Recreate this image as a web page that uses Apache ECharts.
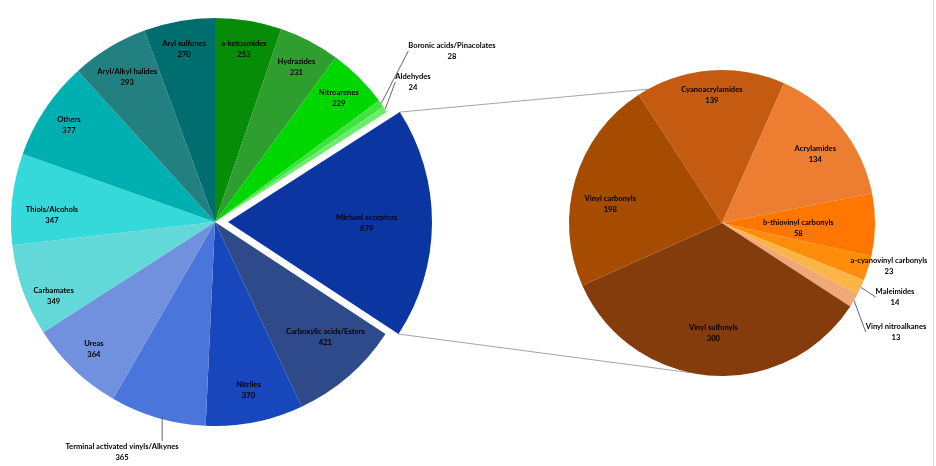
<!DOCTYPE html>
<html><head><meta charset="utf-8">
<script src="https://cdn.jsdelivr.net/npm/echarts@6/dist/echarts.min.js"></script>
<style>html,body{margin:0;padding:0;background:#fff}#c{width:936px;height:466px}</style>
</head><body><div id="c"></div>
<script>
// ---- data ----
const mainNames = ['a-ketoamides','Hydrazides','Nitroarenes','Boronic acids/Pinacolates','Aldehydes','Michael acceptors','Carboxylic acids/Esters','Nitriles','Terminal activated vinyls/Alkynes','Ureas','Carbamates','Thiols/Alcohols','Others','Aryl/Alkyl halides','Aryl sulfones'];
const mainValues = [253,231,229,28,24,879,421,370,365,364,349,347,377,293,270];
const subNames = ['Cyanoacrylamides','Acrylamides','b-thiovinyl carbonyls','a-cyanovinyl carbonyls','Maleimides','Vinyl nitroalkanes','Vinyl sulfonyls','Vinyl carbonyls'];
const subValues = [139,134,58,23,14,13,300,198];
const explodedName = 'Michael acceptors';

// ---- styles ----
const mainColors = ['#078C07','#2E9E2E','#00D600','#3FE43F','#6BEC6B','#0B35A0','#2F4A8A','#1846BC','#4A76DC','#7190DD','#62D8D8','#36D9D9','#00B0B0','#228080','#006E6E'];
const subColors = ['#C55A11','#ED7D31','#FF7700','#FF8C0A','#FBB446','#F0A877','#843C0C','#A64C00'];
const L = {cx:215, cy:222, r:204, start:0, explode:13};
const R = {cx:722, cy:223, r:153, start:-33};
const mainRatio = {'Thiols/Alcohols':0.8,'Carboxylic acids/Esters':0.78,'Aryl/Alkyl halides':0.83,'Nitriles':0.84,'Michael acceptors':0.68,'Carbamates':0.87};
const mainNudge = {'Thiols/Alcohols':-4,'Carbamates':-5,'Carboxylic acids/Esters':-3};
const subRatio = {'Cyanoacrylamides':0.84,'Acrylamides':0.76,'b-thiovinyl carbonyls':0.5,'Vinyl sulfonyls':0.72,'Vinyl carbonyls':0.74};
const subNudge = {'Vinyl carbonyls':-7,'Acrylamides':2,'b-thiovinyl carbonyls':3};
const mainFixed = {'Boronic acids/Pinacolates':[452,51],'Aldehydes':[413,82],'Terminal activated vinyls/Alkynes':[122,452]};
const subFixed = {'a-cyanovinyl carbonyls':[889,266],'Maleimides':[895,297],'Vinyl nitroalkanes':[896,332]};
const noLine = {'a-cyanovinyl carbonyls':true,'Terminal activated vinyls/Alkynes':true};
const FONT = {fontFamily:'Lato, "Liberation Sans", sans-serif', fontSize:7.6, color:'#000', lineHeight:11, fontWeight:'bold'};
const TRANSPARENT = 'rgba(0,0,0,0)';

function cumul(vals){const c=[];let s=0;vals.forEach(v=>{c.push(s);s+=v;});return {c:c,total:s};}
function midAngle(vals,i,geo){const q=cumul(vals);return ((q.c[i]+vals[i]/2)/q.total*360+geo.start)*Math.PI/180;}

// exploded slice centre, derived from its angular position
const q=cumul(mainValues); const mi=mainNames.indexOf(explodedName);
const a0=q.c[mi]/q.total*2*Math.PI, a1=(q.c[mi]+mainValues[mi])/q.total*2*Math.PI, am=(a0+a1)/2;
const ex=L.cx+L.explode*Math.sin(am), ey=L.cy-L.explode*Math.cos(am);
const LX = {cx:ex, cy:ey, r:L.r, start:L.start};

function makeLayout(names, vals, geo, ratios, nudge, fixed){
  return function(p){
    const i=p.dataIndex, nm=names[i];
    if(fixed[nm]) return {x:fixed[nm][0], y:fixed[nm][1], align:'center', verticalAlign:'middle'};
    const th=midAngle(vals,i,geo)+(nudge[nm]||0)*Math.PI/180;
    const k=ratios[nm]!=null?ratios[nm]:0.86;
    return {x:geo.cx+k*geo.r*Math.sin(th), y:geo.cy-k*geo.r*Math.cos(th), align:'center', verticalAlign:'middle'};
  };
}

function buildData(names, vals, colors, fixed, keep){
  return names.map((n,i)=>{
    const visible = keep(n);
    const d={name:n, value:vals[i], itemStyle:{color: visible?colors[i]:TRANSPARENT}};
    if(!visible){d.label={show:false};}
    else if(fixed[n]){
      d.label={position:'outside'};
      d.labelLine={show:!noLine[n], length:8, length2:0, lineStyle:{color:'#404040', width:0.8}};
    }
    return d;
  });
}

function pieSeries(geo, names, vals, colors, ratios, nudge, fixed, keep){
  return {type:'pie', center:[geo.cx,geo.cy], radius:[0,geo.r], startAngle:90-geo.start, clockwise:true,
    avoidLabelOverlap:false, selectedMode:false, emphasis:{disabled:true}, silent:true,
    itemStyle:{borderWidth:0}, label:Object.assign({show:true, position:'inside', formatter:'{b}\n{c}'},FONT),
    labelLine:{show:false},
    labelLayout:makeLayout(names,vals,geo,ratios,nudge,fixed),
    data:buildData(names,vals,colors,fixed,keep)};
}

// connector lines from the exploded slice to the second pie
const pTop=[ex+L.r*Math.sin(a0), ey-L.r*Math.cos(a0)], pBot=[ex+L.r*Math.sin(a1), ey-L.r*Math.cos(a1)];
const rTopA=-29*Math.PI/180, rBotA=192*Math.PI/180;
const qTop=[R.cx+R.r*Math.sin(rTopA), R.cy-R.r*Math.cos(rTopA)], qBot=[R.cx+R.r*Math.sin(rBotA), R.cy-R.r*Math.cos(rBotA)];

// leader line for the "Terminal activated vinyls/Alkynes" label: from the slice edge straight down to the label
const ti=mainNames.indexOf('Terminal activated vinyls/Alkynes');
const tth=midAngle(mainValues,ti,L)-1.3*Math.PI/180;
const tpx=L.cx+L.r*Math.sin(tth), tpy=L.cy-L.r*Math.cos(tth);
const tLabelTop=mainFixed['Terminal activated vinyls/Alkynes'][1]-11;

const chart=echarts.init(document.getElementById('c'),null,{renderer:'canvas'});
chart.setOption({
  backgroundColor:'#fff',
  animation:false,
  graphic:[
    {type:'line', z:0, shape:{x1:pTop[0],y1:pTop[1],x2:qTop[0],y2:qTop[1]}, style:{stroke:'#8c8c8c', lineWidth:0.8}},
    {type:'line', z:0, shape:{x1:pBot[0],y1:pBot[1],x2:qBot[0],y2:qBot[1]}, style:{stroke:'#8c8c8c', lineWidth:0.8}},
    {type:'line', z:0, shape:{x1:933.5,y1:0,x2:933.5,y2:466}, style:{stroke:'#dcdcdc', lineWidth:1}},
    {type:'line', z:10, shape:{x1:tpx,y1:tpy-2,x2:tpx,y2:tLabelTop}, style:{stroke:'#404040', lineWidth:0.8}}
  ],
  series:[
    pieSeries(L, mainNames, mainValues, mainColors, mainRatio, mainNudge, mainFixed, n=>n!==explodedName),
    pieSeries(LX, mainNames, mainValues, mainColors, mainRatio, mainNudge, mainFixed, n=>n===explodedName),
    pieSeries(R, subNames, subValues, subColors, subRatio, subNudge, subFixed, n=>true)
  ]
});
</script></body></html>
